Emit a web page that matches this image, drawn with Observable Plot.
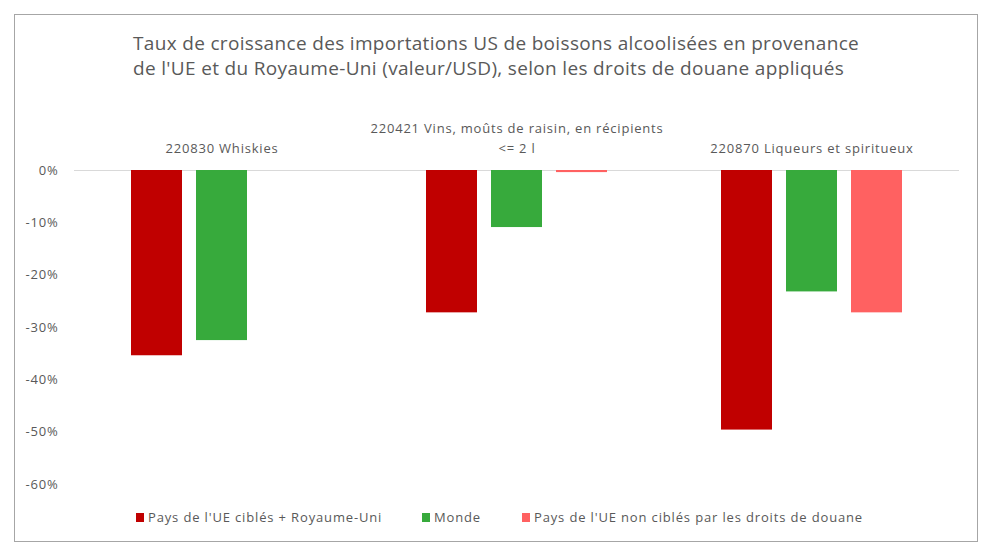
<!DOCTYPE html>
<html>
<head>
<meta charset="utf-8">
<script src="https://cdn.jsdelivr.net/npm/d3@7"></script>
<script src="https://cdn.jsdelivr.net/npm/@observablehq/plot@0.6"></script>
<style>
  html, body { margin: 0; padding: 0; background: #fff; }
  body { width: 994px; height: 556px; position: relative; overflow: hidden; font-family: "Open Sans", sans-serif; color: #595959; }
  #frame { position: absolute; left: 14px; top: 14px; width: 962px; height: 526px; border: 1.5px solid #a6a6a6; }
  #title { position: absolute; left: 133px; top: 31px; font-size: 19px; line-height: 25px; letter-spacing: 0.33px; color: #595959; white-space: nowrap; }
  #chart { position: absolute; left: 0; top: 0; }
  #chart svg text { letter-spacing: 0.8px; }
  #legend { position: absolute; top: 508px; left: 0; width: 994px; height: 18px; font-size: 13px; letter-spacing: 0.85px; color: #595959; }
  .item { position: absolute; top: 0; display: flex; align-items: center; height: 18px; white-space: nowrap; }
  .sw { width: 8px; height: 9px; margin-right: 4px; display: inline-block; }
</style>
</head>
<body>
<div id="frame"></div>
<div id="chart"></div>
<div id="title">Taux de croissance des importations US de boissons alcoolisées en provenance<br>de l'UE et du Royaume-Uni (valeur/USD), selon les droits de douane appliqués</div>
<div id="legend"></div>
<script>
// Categories (HS codes) and their labels
const categories = ["220830", "220421", "220870"];
const categoryLabels = [
  "220830 Whiskies",
  "220421 Vins, moûts de raisin, en récipients\n<= 2 l",
  "220870 Liqueurs et spiritueux"
];
// Series
const series = [
  "Pays de l'UE ciblés + Royaume-Uni",
  "Monde",
  "Pays de l'UE non ciblés par les droits de douane"
];
const seriesColors = ["#c00000", "#37aa3c", "#ff6161"];
// Values (growth rate, fraction), per series, in category order (null = no bar)
const cibles   = [-0.354, -0.272, -0.496];
const monde    = [-0.325, -0.109, -0.232];
const nonCibles = [null, -0.004, -0.272];
const yTicks = [0, -0.1, -0.2, -0.3, -0.4, -0.5, -0.6];

const valuesBySeries = [cibles, monde, nonCibles];
const data = [];
series.forEach((s, si) => {
  categories.forEach((c, ci) => {
    const v = valuesBySeries[si][ci];
    if (v != null) data.push({cat: c, series: s, value: v});
  });
});

const labelOf = new Map(categories.map((c, i) => [c, categoryLabels[i]]));

const chart = Plot.plot({
  width: 994,
  height: 556,
  marginLeft: 73,
  marginRight: 35,
  marginTop: 170,
  marginBottom: 72,
  style: {fontFamily: "Open Sans, sans-serif", fontSize: "13px", color: "#595959", background: "transparent"},
  fx: {domain: categories, padding: 0, label: null},
  x: {domain: series, paddingInner: 0.212, paddingOuter: 0.846, axis: null},
  y: {domain: [-0.6, 0], label: null},
  color: {domain: series, range: seriesColors},
  marks: [
    Plot.axisY({ticks: yTicks, tickSize: 0, tickPadding: 16, tickFormat: d => Math.round(d * 100) + "%", label: null, fill: "#595959", fontSize: 13}),
    Plot.axisFx({anchor: "top", tickSize: 0, tickPadding: 18, tickFormat: d => labelOf.get(d), label: null, fill: "#595959", fontSize: 13, lineHeight: 1.5, lineWidth: 100}),
    Plot.ruleY([0], {stroke: "#d9d9d9", strokeWidth: 1}),
    Plot.barY(data, {fx: "cat", x: "series", y: "value", fill: "series"})
  ]
});
document.getElementById("chart").appendChild(chart);

// Legend
const legendX = [136, 422, 522];
const legend = document.getElementById("legend");
series.forEach((s, i) => {
  const item = document.createElement("div");
  item.className = "item";
  item.style.left = legendX[i] + "px";
  const sw = document.createElement("span");
  sw.className = "sw";
  sw.style.background = seriesColors[i];
  item.appendChild(sw);
  item.appendChild(document.createTextNode(s));
  legend.appendChild(item);
});
</script>
</body>
</html>
